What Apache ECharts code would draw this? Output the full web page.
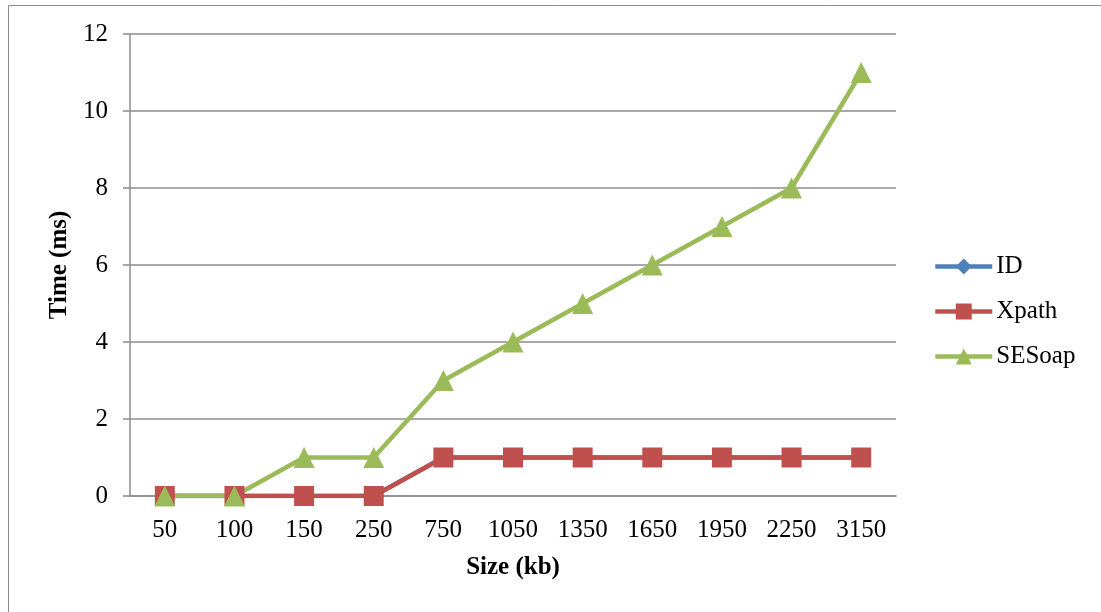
<!DOCTYPE html>
<html>
<head>
<meta charset="utf-8">
<script src="https://cdn.jsdelivr.net/npm/echarts@6/dist/echarts.min.js"></script>
<style>
  html, body { margin: 0; padding: 0; background: #fff; }
  #chart { width: 1101px; height: 612px; }
</style>
</head>
<body>
<div id="chart"></div>
<script>
const sizes = ['50', '100', '150', '250', '750', '1050', '1350', '1650', '1950', '2250', '3150'];
const idTimes = [0, 0, 0, 0, 1, 1, 1, 1, 1, 1, 1];
const xpathTimes = [0, 0, 0, 0, 1, 1, 1, 1, 1, 1, 1];
const sesoapTimes = [0, 0, 1, 1, 3, 4, 5, 6, 7, 8, 11];

const font = '"Liberation Serif", "Times New Roman", serif';
const gridColor = '#8c8c8c';

const chart = echarts.init(document.getElementById('chart'));

const makeSeries = (name, data, color, symbol, size) => ({
    name: name,
    type: 'line',
    data: data,
    symbol: symbol,
    symbolSize: size,
    showAllSymbol: true,
    lineStyle: { color: color, width: 4.5 },
    itemStyle: { color: color },
    emphasis: { disabled: true }
});

chart.setOption({
    animation: false,
    graphic: [{
        type: 'rect',
        shape: { x: 8.5, y: 5.5, width: 1200, height: 700 },
        style: { fill: 'none', stroke: '#8c8c8c', lineWidth: 1 },
        silent: true
    }],
    grid: { left: 130, right: 205, top: 34, bottom: 116 },
    legend: {
        orient: 'vertical',
        left: 928,
        top: 249,
        itemWidth: 57,
        itemHeight: 20,
        itemGap: 20,
        lineStyle: { width: 4.5 },
        textStyle: { fontFamily: font, fontSize: 25, color: '#000', padding: [0, 0, 0, -1] },
        data: ['ID', 'Xpath', 'SESoap']
    },
    xAxis: {
        type: 'category',
        data: sizes,
        boundaryGap: true,
        name: 'Size (kb)',
        nameLocation: 'middle',
        nameGap: 59,
        nameTextStyle: { fontFamily: font, fontSize: 25, fontWeight: 'bold', color: '#000' },
        axisLine: { lineStyle: { color: gridColor, width: 1.5 } },
        axisTick: { show: false },
        axisLabel: { fontFamily: font, fontSize: 25, color: '#000', margin: 22 }
    },
    yAxis: {
        type: 'value',
        min: 0,
        max: 12,
        interval: 2,
        name: 'Time (ms)',
        nameLocation: 'middle',
        nameGap: 58,
        nameTextStyle: { fontFamily: font, fontSize: 25, fontWeight: 'bold', color: '#000' },
        axisLine: { show: true, lineStyle: { color: gridColor, width: 1.5 } },
        axisTick: { show: true, inside: false, length: 7, lineStyle: { color: gridColor, width: 1.5 } },
        axisLabel: { fontFamily: font, fontSize: 25, color: '#000', margin: 22 },
        splitLine: { lineStyle: { color: gridColor, width: 1.5 } }
    },
    series: [
        makeSeries('ID', idTimes, '#4f81bd', 'diamond', 18),
        makeSeries('Xpath', xpathTimes, '#c0504d', 'rect', 20),
        makeSeries('SESoap', sesoapTimes, '#9bbb59', 'triangle', 21)
    ]
});
</script>
</body>
</html>
